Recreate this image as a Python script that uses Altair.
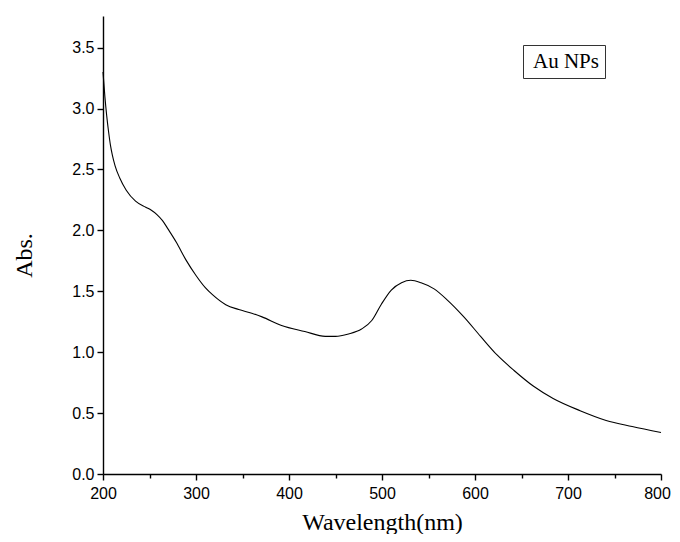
import altair as alt
import pandas as pd

wavelength = [200, 202, 204, 206, 208, 210, 213, 218, 225, 235, 246, 252, 258, 264, 270, 279, 289,
              300, 310, 318, 332, 346, 360, 371, 392, 417, 439, 450, 464, 478, 489, 499,
              510, 521, 531, 542, 556, 570, 588, 606, 624, 642, 663, 684, 713, 741, 769, 800]
absorbance = [3.30, 3.10, 2.94, 2.81, 2.70, 2.62, 2.53, 2.43, 2.33, 2.24, 2.19, 2.165, 2.13, 2.08, 2.01, 1.90, 1.76,
              1.63, 1.53, 1.47, 1.39, 1.35, 1.32, 1.29, 1.22, 1.17, 1.13, 1.13, 1.15, 1.19, 1.26, 1.39,
              1.51, 1.57, 1.59, 1.57, 1.52, 1.43, 1.29, 1.13, 0.975, 0.85, 0.72, 0.62, 0.52, 0.44, 0.39, 0.34]
series_name = "Au NPs"

x_ticks = [200, 250, 300, 350, 400, 450, 500, 550, 600, 650, 700, 750, 800]
y_ticks = [0.0, 0.25, 0.5, 0.75, 1.0, 1.25, 1.5, 1.75, 2.0, 2.25, 2.5, 2.75, 3.0, 3.25, 3.5, 3.75]

df = pd.DataFrame({"wl": wavelength, "abs": absorbance, "series": series_name})

xscale = alt.Scale(domain=[200, 800], nice=False, zero=False)
yscale = alt.Scale(domain=[0, 3.76], nice=False, zero=False)

label_font = "Liberation Sans"
title_font = "Liberation Serif"

x_major_test = "round(datum.value) % 100 === 0"
y_major_test = "abs(datum.value * 2 - round(datum.value * 2)) < 0.001"

line = alt.Chart(df).mark_line(strokeWidth=1.1, interpolate="monotone", color="black").encode(
    x=alt.X("wl:Q", scale=xscale, axis=alt.Axis(
        values=x_ticks, format="d", title="Wavelength(nm)", orient="bottom",
        labelExpr=f"{x_major_test} ? datum.label : ''",
        ticks=True,
        tickColor={"condition": {"test": x_major_test, "value": "black"}, "value": "black"},
        tickSize={"condition": {"test": x_major_test, "value": 6}, "value": 4},
        labelPadding=5, labelFlush=False, grid=False,
        labelOffset={"condition": {"test": "datum.value === 800", "value": -4}, "value": 0},
        titleY=60, titleBaseline="bottom", titleAlign="center")),
    y=alt.Y("abs:Q", scale=yscale, axis=alt.Axis(
        values=y_ticks, format=".1f", title="Abs.", orient="left",
        labelExpr=f"{y_major_test} ? datum.label : ''",
        ticks=True,
        tickColor={"condition": {"test": y_major_test, "value": "black"}, "value": "black"},
        tickSize={"condition": {"test": y_major_test, "value": 6}, "value": 4},
        labelPadding=3, labelFlush=False, grid=False,
        titleX=-79, titleY=239, titleAngle=270, titleBaseline="middle", titleAlign="center")),
)

legend_layer = alt.Chart(df).mark_point(opacity=0, size=0).encode(
    x=alt.X("wl:Q", scale=xscale),
    y=alt.Y("abs:Q", scale=yscale),
    color=alt.Color("series:N", scale=alt.Scale(range=["black"]), legend=alt.Legend(
        title=None, orient="none", legendX=420, legendY=29,
        strokeColor="#333", padding=6, symbolSize=0, symbolStrokeWidth=0, symbolOpacity=0,
        labelOffset=alt.ExprRef("-17"), labelFont=title_font, labelFontSize=21, labelColor="black")),
)

chart = alt.layer(line, legend_layer).properties(
    width=558, height=458,
    autosize=alt.AutoSizeParams(type="none"),
    padding={"left": 95, "top": 8, "right": 11, "bottom": 60},
).configure_view(stroke=None).configure_axis(
    domainColor="black", domainWidth=1.4, tickWidth=1.4,
    labelFont=label_font, labelFontSize=16, labelColor="black",
    titleFont=title_font, titleFontSize=24, titleFontWeight="normal", titleColor="black",
)

chart.save("out.html", embed_options={"renderer": "svg", "actions": False})
